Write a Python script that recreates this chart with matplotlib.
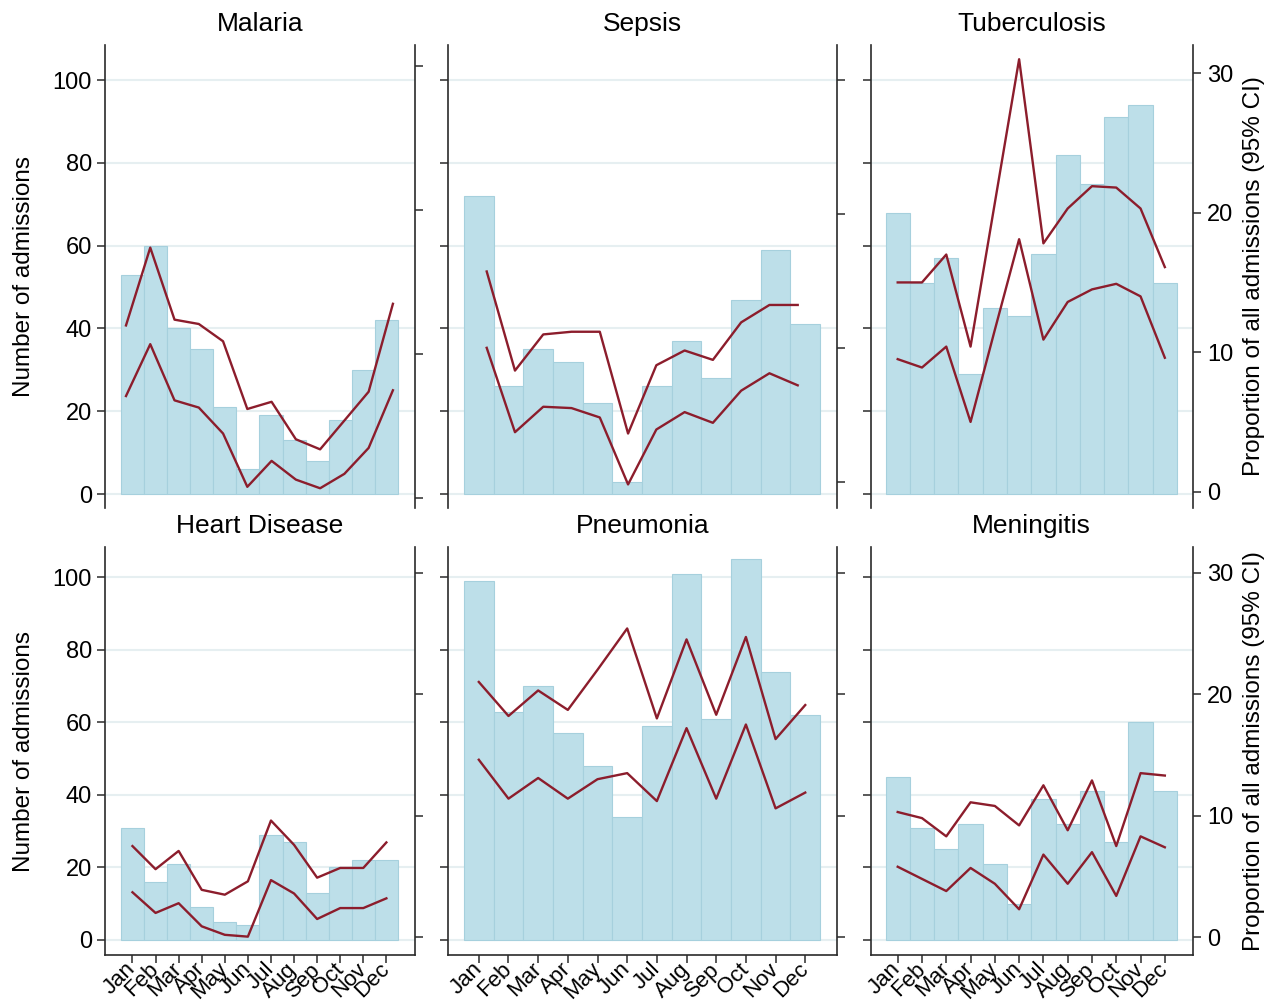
import matplotlib
matplotlib.use("Agg")
import matplotlib.pyplot as plt

plt.rcParams['font.family'] = ['Liberation Sans', 'DejaVu Sans']

months = ['Jan', 'Feb', 'Mar', 'Apr', 'May', 'Jun', 'Jul', 'Aug', 'Sep', 'Oct', 'Nov', 'Dec']
titles = ['Malaria', 'Sepsis', 'Tuberculosis', 'Heart Disease', 'Pneumonia', 'Meningitis']

malaria_n = [53, 60, 40, 35, 21, 6, 19, 13, 8, 18, 30, 42]
malaria_hi = [12.0, 17.4, 12.4, 12.1, 10.9, 6.2, 6.7, 4.1, 3.4, 5.4, 7.4, 13.5]
malaria_lo = [7.1, 10.7, 6.8, 6.3, 4.5, 0.8, 2.6, 1.3, 0.7, 1.7, 3.5, 7.5]

sepsis_n = [72, 26, 35, 32, 22, 3, 26, 37, 28, 47, 59, 41]
sepsis_hi = [15.7, 8.3, 11.0, 11.2, 11.2, 3.6, 8.7, 9.8, 9.1, 11.9, 13.2, 13.2]
sepsis_lo = [10.0, 3.7, 5.6, 5.5, 4.8, -0.2, 3.9, 5.2, 4.4, 6.8, 8.1, 7.2]

tb_n = [68, 51, 57, 29, 45, 43, 58, 82, 75, 91, 94, 51]
tb_hi = [15.0, 15.0, 17.0, 10.4, 20.7, 31.0, 17.8, 20.3, 21.9, 21.8, 20.3, 16.1]
tb_lo = [9.5, 8.9, 10.4, 5.0, 11.6, 18.1, 10.9, 13.6, 14.5, 14.9, 14.0, 9.6]

heart_n = [31, 16, 21, 9, 5, 4, 29, 27, 13, 20, 22, 22]
heart_hi = [7.5, 5.6, 7.1, 3.9, 3.5, 4.6, 9.6, 7.6, 4.9, 5.7, 5.7, 7.8]
heart_lo = [3.7, 2.0, 2.8, 0.9, 0.2, 0.05, 4.7, 3.6, 1.5, 2.4, 2.4, 3.2]

pneu_n = [99, 63, 70, 57, 48, 34, 59, 101, 61, 105, 74, 62]
pneu_hi = [21.0, 18.2, 20.3, 18.7, 22.0, 25.4, 18.0, 24.5, 18.3, 24.7, 16.3, 19.1]
pneu_lo = [14.6, 11.4, 13.1, 11.4, 13.0, 13.5, 11.2, 17.2, 11.4, 17.5, 10.6, 11.9]

men_n = [45, 31, 25, 32, 21, 10, 39, 32, 41, 27, 60, 41]
men_hi = [10.3, 9.8, 8.3, 11.1, 10.8, 9.2, 12.5, 8.8, 12.9, 7.5, 13.5, 13.3]
men_lo = [5.8, 4.8, 3.8, 5.7, 4.4, 2.3, 6.8, 4.4, 7.0, 3.4, 8.3, 7.4]

counts = [malaria_n, sepsis_n, tb_n, heart_n, pneu_n, men_n]
upper = [malaria_hi, sepsis_hi, tb_hi, heart_hi, pneu_hi, men_hi]
lower = [malaria_lo, sepsis_lo, tb_lo, heart_lo, pneu_lo, men_lo]

left_ticks = [0, 20, 40, 60, 80, 100]
right_ticks = [0, 10, 20, 30]

W, H = 1282, 1001
fig = plt.figure(figsize=(W / 100, H / 100), dpi=100)

col_px = [(105, 415), (448, 837), (870.5, 1193)]
row_px = [(45, 508), (547, 955)]
bar_xlim = [(-0.19, 13.24), (-0.038, 13.07), (-0.12, 13.16)]
line_xlim_top = [(0.135, 12.91), (-0.369, 13.39), (-0.12, 13.16)]
left_ylim = [(-3.38, 108.5), (-4.14, 108.4)]
right_ylim_top = [(-0.67, 31.46), (-1.96, 32.61), (-1.17, 32.02)]
right_ylim_bot = (-1.46, 32.1)

BAR = '#BDDFE9'
BAR_EDGE = '#A6D0DD'
LINE = '#8C1D2C'
GRID = '#E6EFF1'
SPINE = '#2B2B2B'

x = list(range(1, 13))

for i in range(6):
    r, c = divmod(i, 3)
    x0, x1 = col_px[c]
    y0, y1 = row_px[r]
    rect = [x0 / W, 1 - y1 / H, (x1 - x0) / W, (y1 - y0) / H]
    ax = fig.add_axes(rect)
    ax.bar(x, counts[i], width=1.0, color=BAR, edgecolor=BAR_EDGE, linewidth=0.8, zorder=2)
    ax.set_xlim(*bar_xlim[c])
    ax.set_ylim(*left_ylim[r])
    ax.set_yticks(left_ticks)
    ax.yaxis.grid(True, color=GRID, linewidth=1.5)
    ax.set_axisbelow(True)
    ax.spines['top'].set_visible(False)
    for s in ['left', 'right', 'bottom']:
        ax.spines[s].set_color(SPINE)
        ax.spines[s].set_linewidth(1.2)
    ax.tick_params(axis='y', direction='out', length=6, width=1.1, color=SPINE,
                   labelsize=17, pad=3.5, labelleft=(c == 0))
    if r == 1:
        ax.set_xticks(x)
        ax.set_xticklabels(months, rotation=45, ha='right', va='center',
                           rotation_mode='anchor', fontsize=16)
        ax.tick_params(axis='x', direction='out', length=6, width=1.1, color=SPINE, pad=2)
    else:
        ax.spines['bottom'].set_visible(False)
        ax.set_xticks([])
    ax.set_title(titles[i], fontsize=19, pad=10)

    ax2 = fig.add_axes(rect, frameon=False)
    ax2.plot(x, upper[i], color=LINE, linewidth=1.7, zorder=3)
    ax2.plot(x, lower[i], color=LINE, linewidth=1.7, zorder=3)
    if r == 0:
        ax2.set_xlim(*line_xlim_top[c])
        ax2.set_ylim(*right_ylim_top[c])
    else:
        ax2.set_xlim(*bar_xlim[c])
        ax2.set_ylim(*right_ylim_bot)
    ax2.set_xticks([])
    ax2.yaxis.tick_right()
    ax2.set_yticks(right_ticks)
    ax2.tick_params(axis='y', direction='out', length=6, width=1.1, color=SPINE,
                    labelsize=17, pad=4, labelright=(c == 2), labelleft=False, left=False)

for r in range(2):
    y0, y1 = row_px[r]
    yc = 1 - (y0 + y1) / 2 / H
    fig.text(24 / W, yc, 'Number of admissions', rotation=90, ha='center', va='center', fontsize=17.5)
    fig.text(1254 / W, yc, 'Proportion of all admissions (95% CI)', rotation=90,
             ha='center', va='center', fontsize=17.5)

fig.savefig('out.png', dpi=100, facecolor='white')
